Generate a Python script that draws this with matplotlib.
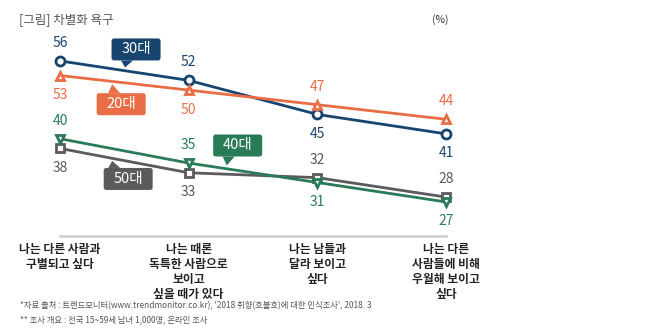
import numpy as np
import matplotlib
matplotlib.use('Agg')
from matplotlib import pyplot as plt
from matplotlib.patches import FancyBboxPatch, Polygon

plt.rcParams['font.family'] = ['Noto Sans CJK KR', 'DejaVu Sans']

# 응답 항목 (x축)
categories = ['나는 다른 사람과\n구별되고 싶다',
              '나는 때론\n독특한 사람으로\n보이고\n싶을 때가 있다',
              '나는 남들과\n달라 보이고\n싶다',
              '나는 다른\n사람들에 비해\n우월해 보이고\n싶다']

# 연령대별 응답률 (%)
age_20s = [53, 50, 47, 44]
age_30s = [56, 52, 45, 41]
age_40s = [40, 35, 31, 27]
age_50s = [38, 33, 32, 28]

c20 = '#e96d45'
c30 = '#17456f'
c40 = '#2a7b58'
c50 = '#5b5b5d'

W, H = 652, 331
fig = plt.figure(figsize=(W / 100, H / 100), dpi=100)
ax = fig.add_axes([60 / W, (H - 236) / H, 386 / W, 196 / H])
x = np.arange(len(categories))

# 선 + 마커, 값 라벨 위치(위/아래)
series = [
    (age_30s, c30, 'o', 6.5, ['up', 'up', 'down', 'down']),
    (age_20s, c20, '^', 6, ['down', 'down', 'up', 'up']),
    (age_50s, c50, 's', 6, ['down', 'down', 'up', 'up']),
    (age_40s, c40, 'v', 6, ['up', 'up', 'down', 'down']),
]
for vals, col, mk, ms, pos in series:
    ax.plot(x, vals, color=col, lw=2, marker=mk, ms=ms, mew=2,
            mfc='white', mec=col, clip_on=False, zorder=3)
    for xi, v, p in zip(x, vals, pos):
        off = 8 if p == 'up' else -9
        ax.annotate(str(v), (xi, v), xytext=(0, off), textcoords='offset points',
                    ha='center', va='bottom' if p == 'up' else 'top',
                    fontsize=10, color=col)

ax.set_xlim(0, 3)
ax.set_ylim(20, 60.3)
for s in ['top', 'right', 'left']:
    ax.spines[s].set_visible(False)
ax.spines['bottom'].set_color('#cccccc')
ax.spines['bottom'].set_linewidth(1.8)
ax.set_xticks([])
ax.set_yticks([])

for xi, lab in zip(x, categories):
    ax.annotate(lab, (xi, 20), xytext=(0, -5), textcoords='offset points',
                ha='center', va='top', fontsize=8.5, fontweight='bold',
                color='#222222', linespacing=1.2)


def callout(xpos, vals, text, col, dx, dy):
    # 선 위의 지점에서 말풍선 박스 (dx, dy 는 픽셀 오프셋)
    tip = ax.transData.transform((xpos, np.interp(xpos, x, vals)))
    cx, cy = tip[0] + dx, tip[1] + dy
    w, h = 49, 22
    box = FancyBboxPatch((cx - w / 2, cy - h / 2), w, h,
                         boxstyle='round,pad=0,rounding_size=2.5',
                         fc=col, ec='none', transform=None, zorder=5)
    fig.patches.append(box)
    base = cy - h / 2 if dy > 0 else cy + h / 2
    bx = tip[0] + 4
    tri = Polygon([(bx - 6, base), (bx + 6, base), (tip[0] + 2, tip[1] + (3 if dy > 0 else -3))],
                  closed=True, fc=col, ec='none', transform=None, zorder=5)
    fig.patches.append(tri)
    fig.text(cx / W, cy / H, text, ha='center', va='center', color='white',
             fontsize=10.5, zorder=6)


callout(0.49, age_30s, '30대', c30, 13, 21)
callout(0.39, age_20s, '20대', c20, 11, -23)
callout(0.39, age_50s, '50대', c50, 18, -21)
callout(1.28, age_40s, '40대', c40, 13, 23)

fig.text(19 / W, 1 - 20 / H, '[그림] 차별화 욕구', fontsize=9, color='#555555',
         ha='left', va='center')
fig.text(440 / W, 1 - 20 / H, '(%)', fontsize=7.5, color='#333333',
         ha='center', va='center')
fig.text(20 / W, 1 - 306 / H,
         "*자료 출처 : 트렌드모니터(www.trendmonitor.co.kr), '2018 취향(호불호)에 대한 인식조사', 2018. 3",
         fontsize=6, color='#555555', ha='left', va='center')
fig.text(20 / W, 1 - 320 / H, '** 조사 개요 : 전국 15~59세 남녀 1,000명, 온라인 조사',
         fontsize=6, color='#555555', ha='left', va='center')

fig.savefig('out.png', dpi=100, facecolor='white')
